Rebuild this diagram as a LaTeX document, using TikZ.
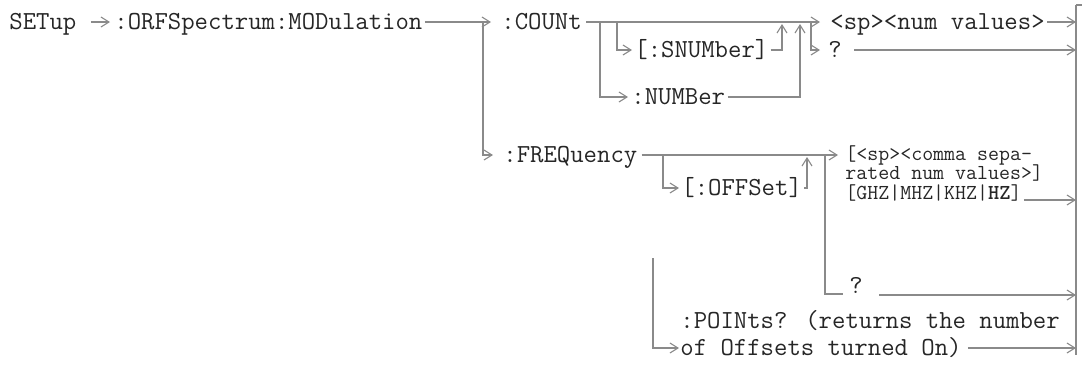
\documentclass[tikz,border=0pt]{standalone}
\usepackage{graphicx}
\usetikzlibrary{arrows.meta,positioning}
\definecolor{inkgray}{HTML}{262626}
\definecolor{wiregray}{HTML}{8A8A8A}
\tikzset{
    every node/.style={inner sep=0pt},
    cmd/.style={font=\ttfamily\fontsize{13}{15}\selectfont,text=inkgray,anchor=west,text height=7.6pt,text depth=0pt},
    note/.style={cmd,text height=6.4pt},
    wire/.style={draw=wiregray,line width=0.55pt},
    link/.style={wire,-{Straight Barb[length=4pt,width=5pt]}}
}
\begin{document}
\begin{tikzpicture}[x=0.5pt,y=-0.5pt]
\useasboundingbox (0,0) rectangle (1083,365);
% command words
\node[cmd] (setup) at (9,22) {SETup};
\node[cmd] (orf) at (114,22) {:ORFSpectrum:MODulation};
\node[cmd] (count) at (501,22) {:COUNt};
\node[cmd] (snum) at (634,50) {[:SNUMber]};
\node[cmd] (numb) at (631,97) {:NUMBer};
\node[cmd] (spnum) at (830,22) {<sp><num values>};
\node[cmd] (cq) at (828,50) {?};
\node[cmd] (freq) at (503,155) {:FREQuency};
\node[cmd] (offs) at (681,188) {[:OFFSet]};
\foreach \i/\y/\txt in {1/154/{[<sp><comma sepa-},2/173.5/{rated num values>]},3/193/{[GHZ|MHZ|KHZ|\textbf{HZ}]}}{
    \node[note] (fv\i) at (845,\y) {\scalebox{0.82}{\txt}};
}
\node[cmd] (fq) at (849,286) {?};
\node[cmd] (pts1) at (680,321) {:POINts? (returns the number};
\node[cmd] (pts2) at (680,348) {of Offsets turned On)};
% junctions and bar
\coordinate (jfreq) at (483,22);
\coordinate (jnum) at (600,22);
\coordinate (jsnum) at (617,22);
\coordinate (jsnumup) at (782,24);
\coordinate (jnumup) at (800,24);
\coordinate (jcq) at (811,22);
\coordinate (joffs) at (663,155);
\coordinate (joffsup) at (807,157);
\coordinate (jfq) at (825,155);
\coordinate (jfv) at (838,155);
\coordinate (jpts) at (653,258);
\coordinate (bartop) at (1076,5);
\coordinate (barbot) at (1076,355);
\foreach \i/\y in {1/22,2/50,3/200,4/295,5/348}{
    \coordinate (end\i) at (1076,\y);
}
% connectors
\draw[link] ([xshift=7pt]setup.east) -- ([xshift=-2pt]orf.west);
\draw[link] ([xshift=1pt]orf.east) -- ([xshift=-5pt]count.west);
\draw[link] (jfreq) |- ([xshift=-5pt]freq.west);
\draw[link] ([xshift=2pt]count.east) -- ([xshift=-5pt]spnum.west);
\draw[link] (jsnum) |- ([xshift=-1pt]snum.west);
\draw[link] (jnum) |- ([xshift=-1.5pt]numb.west);
\draw[link] ([xshift=1pt]snum.east) -| (jsnumup);
\draw[link] ([xshift=1pt]numb.east) -| (jnumup);
\draw[link] (jcq) |- ([xshift=-4pt]cq.west);
\draw[link] ([xshift=6pt]cq.east) -- (end2);
\draw[link] ([xshift=1pt]spnum.east) -- (end1);
\draw[link] ([xshift=2pt]freq.east) -- (jfv);
\draw[link] (joffs) |- ([xshift=-1pt]offs.west);
\draw[link] ([xshift=1pt]offs.east) -| (joffsup);
\draw[link] ([xshift=1pt,yshift=-3.5pt]fv3.east) -- (end3);
\draw[wire] (jfq) |- ([xshift=-3pt,yshift=-4pt]fq.west);
\draw[link] ([xshift=8pt,yshift=-4.5pt]fq.east) -- (end4);
\draw[link] (jpts) |- ([xshift=-0.5pt]pts2.west);
\draw[link] ([xshift=3pt]pts2.east) -- (end5);
\draw[wire] (bartop) -- (barbot);
\draw[wire] (bartop) -- ++(6,0);
\end{tikzpicture}
\end{document}
